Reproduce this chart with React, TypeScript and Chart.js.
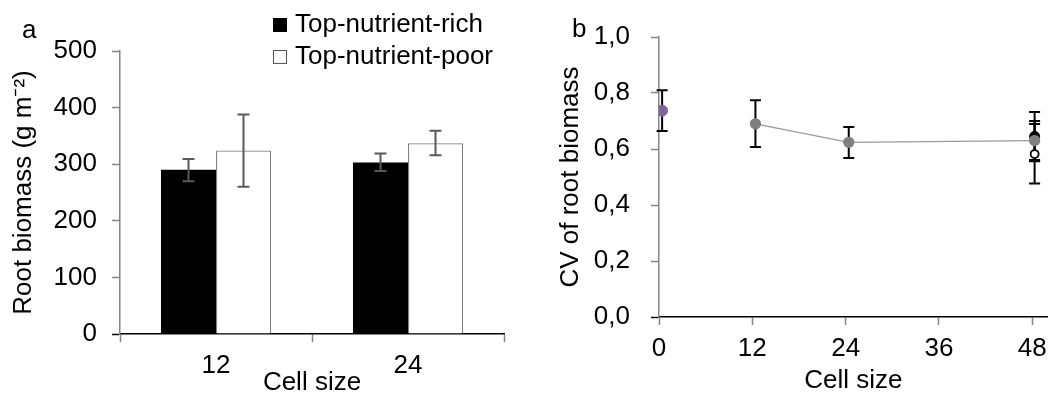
import React, { useEffect, useRef } from 'react';
import { Chart, registerables } from 'chart.js';

Chart.register(...registerables);

const FONT = '"Liberation Sans", Arial, sans-serif';

// ---------- Panel a data ----------
const cellSizesA = ['12', '24'];
const richLabel = 'Top-nutrient-rich';
const poorLabel = 'Top-nutrient-poor';
const richMean = [290, 303];
const richLow = [270, 288];
const richHigh = [309, 319];
const poorMean = [324, 337];
const poorLow = [260, 316];
const poorHigh = [388, 359];
const yTicksA = [0, 100, 200, 300, 400, 500];

// ---------- Panel b data ----------
const xTicksB = [0, 12, 24, 36, 48];
const yTickLabelsB = ['0,0', '0,2', '0,4', '0,6', '0,8', '1,0'];
const yTickValuesB = [0, 0.2, 0.4, 0.6, 0.8, 1.0];
const purpleX = [0.4];
const purpleY = [0.737];
const purpleLow = [0.664];
const purpleHigh = [0.81];
const grayX = [12.4, 24.4, 48.3];
const grayY = [0.69, 0.624, 0.63];
const grayLow = [0.607, 0.568, 0.556];
const grayHigh = [0.774, 0.679, 0.7];
const richBX = [48.3];
const richBY = [0.645];
const richBLow = [0.561];
const richBHigh = [0.732];
const poorBX = [48.3];
const poorBY = [0.582];
const poorBLow = [0.477];
const poorBHigh = [0.689];

const pts = (xs: number[], ys: number[]) => xs.map((x, i) => ({ x, y: ys[i] }));

function drawErr(chart: any, opts: any) {
  const ctx = chart.ctx;
  const yScale = chart.scales.y;
  chart.data.datasets.forEach((ds: any, di: number) => {
    if (!ds.errLow) return;
    const meta = chart.getDatasetMeta(di);
    meta.data.forEach((el: any, i: number) => {
      const x = el.x;
      const y1 = yScale.getPixelForValue(ds.errLow[i]);
      const y2 = yScale.getPixelForValue(ds.errHigh[i]);
      ctx.save();
      ctx.strokeStyle = opts.color;
      ctx.lineWidth = opts.width;
      ctx.beginPath();
      ctx.moveTo(x, y1);
      ctx.lineTo(x, y2);
      ctx.moveTo(x - opts.cap, y1);
      ctx.lineTo(x + opts.cap, y1);
      ctx.moveTo(x - opts.cap, y2);
      ctx.lineTo(x + opts.cap, y2);
      ctx.stroke();
      ctx.restore();
    });
  });
}

const errorBars = {
  id: 'errorBars',
  beforeDatasetsDraw(chart: any, _a: any, opts: any) {
    if (opts.behind) drawErr(chart, opts);
  },
  afterDatasetsDraw(chart: any, _a: any, opts: any) {
    if (!opts.behind) drawErr(chart, opts);
  },
};

const panelLetter = {
  id: 'panelLetter',
  afterDraw(chart: any, _a: any, opts: any) {
    const ctx = chart.ctx;
    ctx.save();
    ctx.font = `26px ${FONT}`;
    ctx.fillStyle = '#000';
    ctx.textBaseline = 'alphabetic';
    ctx.textAlign = 'left';
    ctx.fillText(opts.text, opts.x, opts.y);
    ctx.restore();
  },
};

const legendA = {
  id: 'legendA',
  afterDraw(chart: any, _a: any, opts: any) {
    const ctx = chart.ctx;
    ctx.save();
    ctx.font = `26px ${FONT}`;
    ctx.textBaseline = 'middle';
    ctx.textAlign = 'left';
    chart.data.datasets.forEach((ds: any, i: number) => {
      const y = opts.ys[i];
      ctx.fillStyle = ds.backgroundColor;
      ctx.fillRect(opts.x, y - 7, 14, 14);
      ctx.strokeStyle = ds.legendBorder;
      ctx.lineWidth = 1;
      ctx.strokeRect(opts.x + 0.5, y - 6.5, 13, 13);
      ctx.fillStyle = '#000';
      ctx.fillText(ds.label, opts.x + 22, y);
    });
    ctx.restore();
  },
};

function PanelA() {
  const ref = useRef<HTMLCanvasElement>(null);
  useEffect(() => {
    const chart = new Chart(ref.current as HTMLCanvasElement, {
      type: 'bar',
      data: {
        labels: cellSizesA,
        datasets: [
          {
            label: richLabel,
            data: richMean,
            backgroundColor: '#000000',
            borderColor: '#000000',
            borderWidth: 0,
            errLow: richLow,
            errHigh: richHigh,
            legendBorder: '#000000',
            categoryPercentage: 0.573,
            barPercentage: 1,
          } as any,
          {
            label: poorLabel,
            data: poorMean,
            backgroundColor: '#ffffff',
            borderColor: '#7f7f7f',
            borderWidth: 1.2,
            errLow: poorLow,
            errHigh: poorHigh,
            legendBorder: '#555555',
            categoryPercentage: 0.573,
            barPercentage: 1,
          } as any,
        ],
      },
      options: {
        responsive: false,
        animation: false,
        layout: { padding: { left: 0, top: 51, right: 16, bottom: 0 } },
        plugins: {
          legend: { display: false },
          tooltip: { enabled: false },
          errorBars: { color: '#595959', width: 2, cap: 6, behind: false },
          panelLetter: { text: 'a', x: 22, y: 38 },
          legendA: { x: 273, ys: [25, 57] },
        } as any,
        scales: {
          x: {
            afterFit: (s: any) => {
              s.height = 62;
            },
            border: { color: '#000000', width: 1.5 },
            grid: { offset: true, drawOnChartArea: false, tickLength: 8, tickColor: '#868686', tickWidth: 1.5 },
            ticks: { color: '#000', font: { family: FONT, size: 26 }, padding: 8 },
            title: {
              display: true,
              text: 'Cell size',
              color: '#000',
              font: { family: FONT, size: 26 },
              padding: { top: 0, bottom: -2 },
            },
          },
          y: {
            min: 0,
            max: 500,
            afterFit: (s: any) => {
              s.width = 120;
            },
            afterBuildTicks: (s: any) => {
              s.ticks = yTicksA.map((v) => ({ value: v }));
            },
            border: { color: '#868686', width: 1.5 },
            grid: {
              drawOnChartArea: false,
              tickLength: 8,
              tickWidth: 1.5,
              tickColor: (c: any) => (c.tick && c.tick.value === 0 ? '#000' : '#868686'),
            },
            ticks: { color: '#000', font: { family: FONT, size: 26 }, padding: 15 },
            title: {
              display: true,
              text: 'Root biomass (g m⁻²)',
              color: '#000',
              font: { family: FONT, size: 26 },
              padding: { top: 8, bottom: 0 },
            },
          },
        },
      },
      plugins: [errorBars, panelLetter, legendA],
    } as any);
    return () => chart.destroy();
  }, []);
  return <canvas ref={ref} width={520} height={396} style={{ position: 'absolute', left: 0, top: 0 }} />;
}

function PanelB() {
  const ref = useRef<HTMLCanvasElement>(null);
  useEffect(() => {
    const chart = new Chart(ref.current as HTMLCanvasElement, {
      type: 'scatter',
      data: {
        datasets: [
          {
            label: 'mean',
            data: pts(grayX, grayY),
            showLine: true,
            borderColor: '#9a9a9a',
            borderWidth: 1.3,
            backgroundColor: '#808080',
            pointBackgroundColor: '#808080',
            pointBorderColor: '#808080',
            pointRadius: 5,
            errLow: grayLow,
            errHigh: grayHigh,
          } as any,
          {
            label: 'control',
            data: pts(purpleX, purpleY),
            backgroundColor: '#8064a2',
            pointBackgroundColor: '#8064a2',
            pointBorderColor: '#8064a2',
            pointRadius: 5.5,
            errLow: purpleLow,
            errHigh: purpleHigh,
          } as any,
          {
            label: richLabel,
            data: pts(richBX, richBY),
            backgroundColor: '#000',
            pointBackgroundColor: '#000',
            pointBorderColor: '#000',
            pointRadius: 5,
            errLow: richBLow,
            errHigh: richBHigh,
          } as any,
          {
            label: poorLabel,
            data: pts(poorBX, poorBY),
            backgroundColor: '#fff',
            pointBackgroundColor: '#fff',
            pointBorderColor: '#000',
            pointBorderWidth: 1.8,
            pointRadius: 4,
            errLow: poorBLow,
            errHigh: poorBHigh,
          } as any,
        ],
      },
      options: {
        responsive: false,
        animation: false,
        layout: { padding: { left: 10, top: 37, right: 3, bottom: 0 } },
        plugins: {
          legend: { display: false },
          tooltip: { enabled: false },
          errorBars: { color: '#000000', width: 2, cap: 5.5, behind: true },
          panelLetter: { text: 'b', x: 42, y: 37 },
        } as any,
        scales: {
          x: {
            type: 'linear',
            min: 0,
            max: 50,
            afterFit: (s: any) => {
              s.height = 79;
            },
            afterBuildTicks: (s: any) => {
              s.ticks = xTicksB.map((v) => ({ value: v }));
            },
            border: { color: '#000000', width: 1.5 },
            grid: { drawOnChartArea: false, tickLength: 8, tickColor: '#868686', tickWidth: 1.5 },
            ticks: { color: '#000', font: { family: FONT, size: 26 }, padding: 8 },
            title: {
              display: true,
              text: 'Cell size',
              color: '#000',
              font: { family: FONT, size: 26 },
              padding: { top: 0, bottom: 0 },
            },
          },
          y: {
            min: 0,
            max: 1,
            afterFit: (s: any) => {
              s.width = 119;
            },
            afterBuildTicks: (s: any) => {
              s.ticks = yTickValuesB.map((v) => ({ value: v }));
            },
            border: { color: '#868686', width: 1.5 },
            grid: {
              drawOnChartArea: false,
              tickLength: 8,
              tickWidth: 1.5,
              tickColor: (c: any) => (c.tick && c.tick.value === 0 ? '#000' : '#868686'),
            },
            ticks: {
              color: '#000',
              font: { family: FONT, size: 26 },
              padding: 21,
              callback: (_v: any, i: number) => yTickLabelsB[i],
            },
            title: {
              display: true,
              text: 'CV of root biomass',
              color: '#000',
              font: { family: FONT, size: 26 },
              padding: { top: 15, bottom: 0 },
            },
          },
        },
      },
      plugins: [errorBars, panelLetter],
    } as any);
    return () => chart.destroy();
  }, []);
  return <canvas ref={ref} width={525} height={396} style={{ position: 'absolute', left: 530, top: 0 }} />;
}

export default function App() {
  return (
    <div style={{ position: 'absolute', left: 0, top: 0, width: 1055, height: 396, background: '#fff', overflow: 'hidden' }}>
      <PanelA />
      <PanelB />
    </div>
  );
}
